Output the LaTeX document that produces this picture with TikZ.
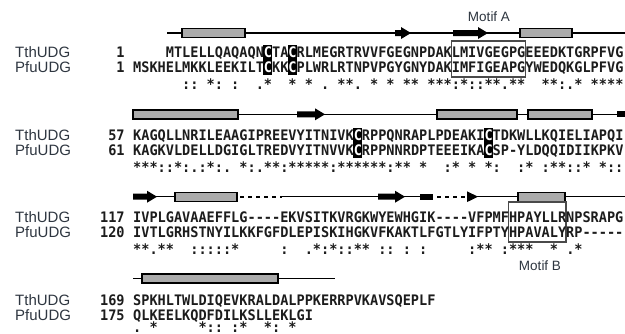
\documentclass[tikz,border=0pt]{standalone}
\usepackage{fontspec}
\setmainfont{Liberation Sans}
\newfontfamily\seqfont[Ligatures=TeXOff,FakeStretch=0.936]{DejaVu Sans Mono}
\newcommand\wc{\textcolor{white}{C}}
\definecolor{seqtext}{HTML}{1C1C1C}
\definecolor{lbl}{HTML}{2E3640}
\definecolor{helixfill}{HTML}{ABABAB}
\definecolor{motifcol}{HTML}{4A4A4A}
\newcommand\helixbar[3]{\draw[helix] (#1,#3-4.5) rectangle (#2,#3+4.5);}
\newcommand\strandarrow[3]{\fill[black] (#1,#3-3) -- (#2-10,#3-3) -- (#2-10,#3-6) -- (#2,#3) -- (#2-10,#3+6) -- (#2-10,#3+3) -- (#1,#3+3) -- cycle;}
\newcommand\cboxat[3]{\fill[black] ({133+(#1-1)*8.17-0.3},#2) rectangle ({133+#1*8.17+0.3},#3);}
\tikzset{
 seq/.style={anchor=base west, inner sep=0pt, font=\seqfont\bfseries\fontsize{14.5}{17}\selectfont, text=seqtext},
 cons/.style={seq, text height=8pt, text depth=0pt},
 num/.style={anchor=base east, inner sep=0pt, font=\seqfont\bfseries\fontsize{14.5}{17}\selectfont, text=seqtext},
 lab/.style={anchor=base west, inner sep=0pt, font=\fontsize{15}{18}\selectfont, text=lbl},
 motiflab/.style={anchor=base, inner sep=0pt, font=\fontsize{13.5}{16}\selectfont, text=lbl},
 helix/.style={draw=black, fill=helixfill, line width=1.4pt},
 backbone/.style={draw=black, line width=1.4pt},
 gapline/.style={draw=black, line width=2pt, dash pattern=on 4pt off 4pt},
 motifbox/.style={draw=motifcol, line width=1.1pt},
}
\begin{document}
\begin{tikzpicture}[x=1pt,y=-1pt]
\useasboundingbox (0,0) rectangle (625,333);
\fill[white] (0,0) rectangle (625,333);

% ---------- secondary structure, block 1 ----------
\draw[backbone] (167,33) -- (626,33);
\helixbar{182}{245}{33}
\strandarrow{395}{411}{33}
\strandarrow{453}{488}{33}
\helixbar{520}{572}{33}
% ---------- block 2 ----------
\draw[backbone] (133,114.3) -- (626,114.3);
\helixbar{133}{238}{114.3}
\strandarrow{297}{325}{114.3}
\helixbar{437}{517}{114.3}
\helixbar{528}{592}{114.3}
\fill[black] (617,111.3) rectangle (626,117.3);
% ---------- block 3 ----------
\draw[backbone] (155,196.7) -- (175,196.7);
\draw[backbone] (282,196.7) -- (420,196.7);
\draw[backbone] (476,196.7) -- (626,196.7);
\strandarrow{133}{157}{196.7}
\helixbar{175}{237}{196.7}
\draw[gapline] (240,196.7) -- (282,196.7);
\strandarrow{378}{405}{196.7}
\fill[black] (420,193.9) rectangle (433,199.6);
\draw[gapline] (437,196.7) -- (467,196.7);
\fill[black] (467,191.3) -- (478,196.7) -- (467,202.1) -- cycle;
\helixbar{518}{565}{196.7}
% ---------- block 4 ----------
\draw[backbone] (133,278.3) -- (335,278.3);
\helixbar{142}{278}{278.3}

% ---------- highlighted cysteines ----------
\cboxat{17}{45}{74.5}
\cboxat{20}{45}{74.5}
\cboxat{28}{128}{157.5}
\cboxat{44}{128}{157.5}

% ---------- motif boxes ----------
\draw[motifbox] (451.6,41) rectangle (525.2,77);
\draw[motifbox] (508.8,202) rectangle (566,242);
\node[motiflab] (motifA) at (489,21.7) {Motif A};
\node[motiflab] (motifB) at (540,270) {Motif B};

% ---------- block 1 ----------
\node[lab] (l1t) at (15,57) {TthUDG};
\node[lab] (l1p) at (15,72.5) {PfuUDG};
\node[num] (n1t) at (124.8,57) {1};
\node[num] (n1p) at (124.8,72.5) {1};
\node[seq] (s1t) at (165.68,57) {MTLELLQAQAQN\wc TA\wc RLMEGRTRVVFGEGNPDAKLMIVGEGPGEEEDKTGRPFVG};
\node[seq] (s1p) at (133,72.5) {MSKHELMKKLEEKILT\wc KK\wc PLWRLRTNPVPGYGNYDAKIMFIGEAPGYWEDQKGLPFVG};
\node[cons] (c1) at (133,89.5) {~~~~~~::~*:~:~~.*~~*~*~.~**.~*~*~**~***:*::**.**~~**:.*~****};

% ---------- block 2 ----------
\node[lab] (l2t) at (15,140) {TthUDG};
\node[lab] (l2p) at (15,155.5) {PfuUDG};
\node[num] (n2t) at (124.8,140) {57};
\node[num] (n2p) at (124.8,155.5) {61};
\node[seq] (s2t) at (133,140) {KAGQLLNRILEAAGIPREEVYITNIVK\wc RPPQNRAPLPDEAKI\wc TDKWLLKQIELIAPQI};
\node[seq] (s2p) at (133,155.5) {KAGKVLDELLDGIGLTREDVYITNVVK\wc RPPNNRDPTEEEIKA\wc SP-YLDQQIDIIKPKV};
\node[cons] (c2) at (133,172.5) {***::*:.:*:.~*:.**:*****:******:**~*~~:*~*~*:~~:*~:**::*~*::};

% ---------- block 3 ----------
\node[lab] (l3t) at (15,222) {TthUDG};
\node[lab] (l3p) at (15,237.5) {PfuUDG};
\node[num] (n3t) at (124.8,222) {117};
\node[num] (n3p) at (124.8,237.5) {120};
\node[seq] (s3t) at (133,222) {IVPLGAVAAEFFLG-{}-{}-{}-EKVSITKVRGKWYEWHGIK-{}-{}-{}-VFPMFHPAYLLRNPSRAPG};
\node[seq] (s3p) at (133,237.5) {IVTLGRHSTNYILKKFGFDLEPISKIHGKVFKAKTLFGTLYIFPTYHPAVALYRP-{}-{}-{}-{}-};
\node[cons] (c3) at (133,254.5) {**.**~~:::::*~~~~~:~~.*:*::**~::~:~:~~~~~:**~:***~~*~.*};

% ---------- block 4 ----------
\node[lab] (l4t) at (15,305) {TthUDG};
\node[lab] (l4p) at (15,320.5) {PfuUDG};
\node[num] (n4t) at (124.8,305) {169};
\node[num] (n4p) at (124.8,320.5) {175};
\node[seq] (s4t) at (133,305) {SPKHLTWLDIQEVKRALDALPPKERRPVKAVSQEPLF};
\node[seq] (s4p) at (133,320.5) {QLKEELKQDFDILKSLLEKLGI};
\node[cons] (c4) at (133,332.3) {.~*~~~~~*::~:*~~*:~*};
\end{tikzpicture}
\end{document}
